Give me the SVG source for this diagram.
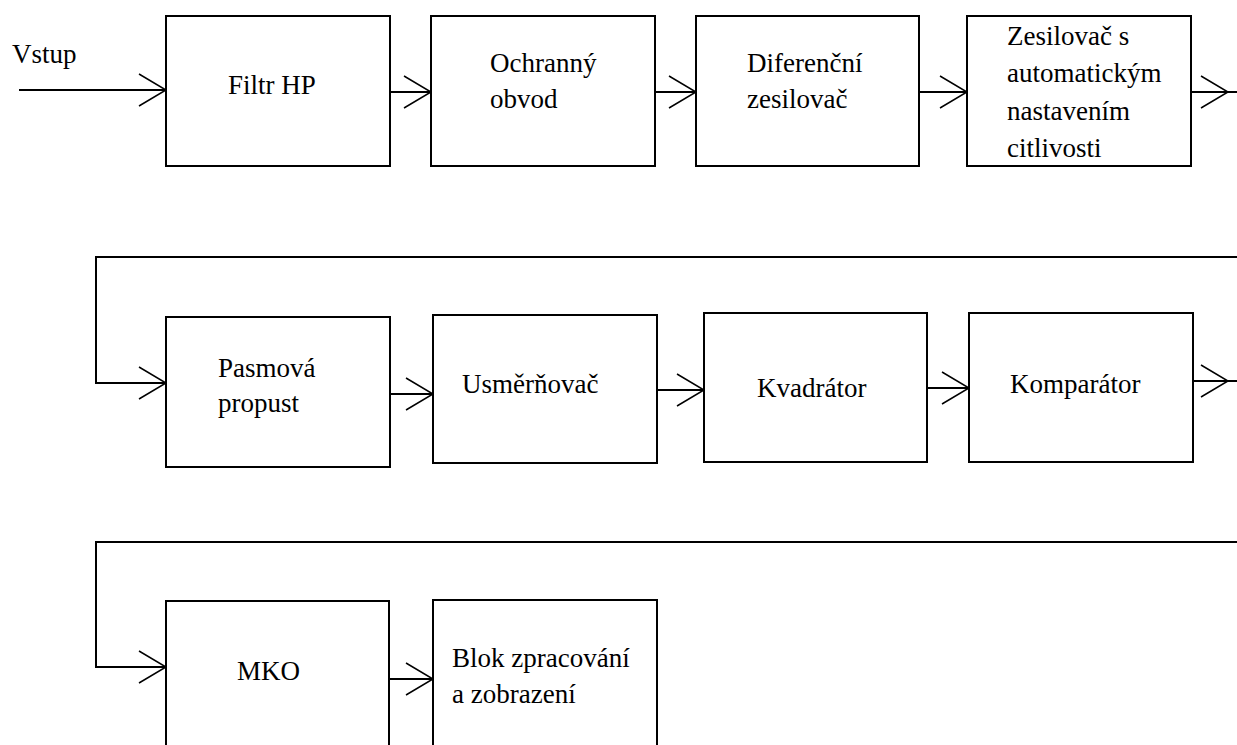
<svg xmlns="http://www.w3.org/2000/svg" xmlns:xlink="http://www.w3.org/1999/xlink" width="1237" height="745" viewBox="0 0 1237 745">
<style>
.box{fill:#fff;stroke:#000;stroke-width:2}
.ln{fill:none;stroke:#000;stroke-width:2}
.ah{fill:none;stroke:#000;stroke-width:1.5}
.t{font-size:27px;fill:#000}
</style>
<defs>
<path id="ah" class="ah" d="M-27,-16 L0,0 L-27,16"/>
</defs>
<rect width="1237" height="745" fill="#fff"/>
<g id="connectors">
<path class="ln" d="M19,90 H166"/>
<path class="ln" d="M390,92 H431"/>
<path class="ln" d="M655,92 H696"/>
<path class="ln" d="M919,92 H967"/>
<path class="ln" d="M1191,92 H1237"/>
<path class="ln" d="M1237,257 H96 V383 H166"/>
<path class="ln" d="M390,394 H433"/>
<path class="ln" d="M657,390 H704"/>
<path class="ln" d="M927,388 H969"/>
<path class="ln" d="M1193,381 H1237"/>
<path class="ln" d="M1237,542 H96 V667 H166"/>
<path class="ln" d="M389,679 H433"/>
<use xlink:href="#ah" x="166" y="90"/>
<use xlink:href="#ah" x="431" y="92"/>
<use xlink:href="#ah" x="696" y="92"/>
<use xlink:href="#ah" x="967" y="92"/>
<use xlink:href="#ah" x="1228" y="92"/>
<use xlink:href="#ah" x="166" y="383"/>
<use xlink:href="#ah" x="433" y="394"/>
<use xlink:href="#ah" x="704" y="390"/>
<use xlink:href="#ah" x="969" y="388"/>
<use xlink:href="#ah" x="1228" y="381"/>
<use xlink:href="#ah" x="166" y="667"/>
<use xlink:href="#ah" x="433" y="679"/>
</g>
<g font-family="Liberation Serif, serif">
<g id="label-vstup"><text class="t" x="12" y="63">Vstup</text></g>
<g id="filtr-hp"><rect class="box" x="166" y="16" width="224" height="150"/><text class="t" x="228" y="94">Filtr HP</text></g>
<g id="ochranny-obvod"><rect class="box" x="431" y="16" width="224" height="150"/><text class="t" x="490" y="72">Ochranný</text><text class="t" x="490" y="108">obvod</text></g>
<g id="diferencni-zesilovac"><rect class="box" x="696" y="16" width="223" height="150"/><text class="t" x="747" y="72">Diferenční</text><text class="t" x="747" y="108">zesilovač</text></g>
<g id="zesilovac-ans"><rect class="box" x="967" y="16" width="224" height="150"/><text class="t" x="1007" y="45">Zesilovač s</text><text class="t" x="1007" y="82">automatickým</text><text class="t" x="1007" y="120">nastavením</text><text class="t" x="1007" y="157">citlivosti</text></g>
<g id="pasmova-propust"><rect class="box" x="166" y="317" width="224" height="150"/><text class="t" x="218" y="377">Pasmová</text><text class="t" x="218" y="412">propust</text></g>
<g id="usmernovac"><rect class="box" x="433" y="315" width="224" height="148"/><text class="t" x="462" y="393">Usměrňovač</text></g>
<g id="kvadrator"><rect class="box" x="704" y="313" width="223" height="149"/><text class="t" x="757" y="397">Kvadrátor</text></g>
<g id="komparator"><rect class="box" x="969" y="313" width="224" height="149"/><text class="t" x="1010" y="393">Komparátor</text></g>
<g id="mko"><rect class="box" x="166" y="601" width="223" height="150"/><text class="t" x="237" y="680">MKO</text></g>
<g id="blok-zpracovani"><rect class="box" x="433" y="600" width="224" height="150"/><text class="t" x="452" y="667">Blok zpracování</text><text class="t" x="452" y="703">a zobrazení</text></g>
</g>
</svg>
